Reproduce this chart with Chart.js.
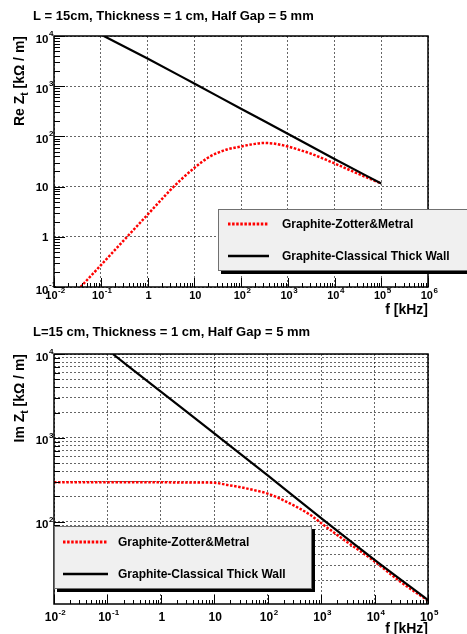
<!DOCTYPE html>
<html>
<head>
<meta charset="utf-8">
<script src="https://cdn.jsdelivr.net/npm/chart.js@4/dist/chart.umd.min.js"></script>
<style>
  html, body { margin: 0; padding: 0; background: #fff; }
  #wrap { position: relative; width: 467px; height: 634px; overflow: hidden; }
  canvas { position: absolute; left: 0; }
</style>
</head>
<body>
<div id="wrap">
  <canvas id="reChart" width="467" height="318" style="top:0"></canvas>
  <canvas id="imChart" width="467" height="316" style="top:318px"></canvas>
</div>
<script>
// values (f in kHz, Z in kOhm/m)
var reFreqZM = [0.037, 0.1, 0.3, 1, 3, 5, 10, 20, 30, 50, 100, 200, 300, 500, 1000, 2000, 3000, 10000, 30000, 100000];
var reZM = [0.1, 0.27, 0.82, 2.75, 8.3, 13.3, 23.5, 38, 46, 55, 63, 71, 74, 72, 63, 52, 46, 29, 18.5, 11.5];
var reFreqCTW = [0.116, 1, 10, 100, 1000, 10000, 100000];
var reCTW = [10000, 3560, 1130, 356, 113, 35.5, 11.5];

var imFreqZM = [0.01, 0.1, 1, 5, 10, 17.5, 31, 55, 100, 193, 630, 1000, 2220, 10000, 30000, 100000];
var imZM = [294, 294, 294, 293, 291, 274, 257, 238, 216, 181, 120, 96, 66, 33.5, 19.3, 11.4];
var imFreqCTW = [0.126, 1, 10, 100, 1000, 10000, 100000];
var imCTW = [10000, 3560, 1130, 356, 110, 35, 11.6];

var seriesNames = ['Graphite-Zotter&Metral', 'Graphite-Classical Thick Wall'];

// tick labels ("^" marks the exponent), first entry is the lowest decade of each axis
var reXTicks = ['10^-2', '10^-1', '1', '10', '10^2', '10^3', '10^4', '10^5', '10^6'];
var reYTicks = ['10^-1', '1', '10', '10^2', '10^3', '10^4'];
var imXTicks = ['10^-2', '10^-1', '1', '10', '10^2', '10^3', '10^4', '10^5'];
var imYTicks = ['10^2', '10^3', '10^4'];

var FONT = '"Liberation Sans", Arial, Helvetica, sans-serif';
Chart.defaults.font.family = FONT;
Chart.defaults.font.weight = 'bold';
Chart.defaults.font.size = 11;
Chart.defaults.color = '#000';

var gridCol = 'rgba(0,0,0,0.6)';

function pts(xs, ys) {
  return xs.map(function(x, i) { return { x: x, y: ys[i] }; });
}

// 1..9 x 10^n ticks, major at the decades
function decadeTicks(scale) {
  var ticks = [];
  var lo = Math.floor(Math.log10(scale.min) + 1e-9);
  var hi = Math.ceil(Math.log10(scale.max) - 1e-9);
  for (var e = lo; e <= hi; e++) {
    for (var m = 1; m < 10; m++) {
      var v = m * Math.pow(10, e);
      if (v >= scale.min * 0.999 && v <= scale.max * 1.001) ticks.push({ value: v, major: m === 1 });
    }
  }
  scale.ticks = ticks;
}

function labelFrom(labels, firstExp) {
  return function(value, index, ticks) {
    if (!ticks[index].major) return '';
    return labels[Math.round(Math.log10(value)) - firstExp];
  };
}

function majorOnly(c) {
  return c.tick && c.tick.major ? gridCol : 'rgba(0,0,0,0)';
}

function f(size) { return 'bold ' + size + 'px ' + FONT; }

// ROOT-like label "10^n": base text plus raised exponent
function powLabel(ctx, text, x, y, mode, baseSize) {
  var parts = text.split('^');
  ctx.font = f(baseSize);
  var wb = ctx.measureText(parts[0]).width, we = 0;
  if (parts[1]) { ctx.font = f(8); we = ctx.measureText(parts[1]).width; }
  var x0 = mode === 'center' ? x + 1 - (wb + we) / 2 : x - wb;
  var yb = parts[1] && mode !== 'center' ? y + 2.5 : y;
  ctx.textAlign = 'left';
  ctx.textBaseline = 'alphabetic';
  ctx.font = f(baseSize);
  ctx.fillText(parts[0], x0, yb);
  if (parts[1]) {
    ctx.font = f(8);
    ctx.fillText(parts[1], x0 + wb + 0.5, yb - 6.5);
  }
}

// frame, inner ticks, labels, titles and the boxed legend
var rootDeco = {
  id: 'rootDeco',
  afterDraw: function(chart, args, o) {
    var ctx = chart.ctx, a = chart.chartArea;
    var xs = chart.scales.x, ys = chart.scales.y;
    ctx.save();

    ctx.strokeStyle = '#000';
    ctx.lineWidth = 1;
    ctx.beginPath();
    ys.ticks.forEach(function(t) {
      var p = Math.round(ys.getPixelForValue(t.value)) + 0.5;
      ctx.moveTo(a.left, p); ctx.lineTo(a.left + (t.major ? 11 : 6), p);
    });
    xs.ticks.forEach(function(t) {
      var p = Math.round(xs.getPixelForValue(t.value)) + 0.5;
      ctx.moveTo(p, a.bottom); ctx.lineTo(p, a.bottom - (t.major ? 9 : 4));
    });
    ctx.stroke();

    ctx.lineWidth = 1.5;
    ctx.strokeRect(a.left, a.top, a.right - a.left, a.bottom - a.top);

    // tick labels
    ctx.fillStyle = '#000';
    xs.ticks.forEach(function(t) {
      if (!t.major) return;
      var s = o.xLabels[Math.round(Math.log10(t.value)) - o.xFirst];
      powLabel(ctx, s, xs.getPixelForValue(t.value), a.bottom + o.xLabelOff, 'center', o.xLabelSize);
    });
    ys.ticks.forEach(function(t) {
      if (!t.major) return;
      var s = o.yLabels[Math.round(Math.log10(t.value)) - o.yFirst];
      powLabel(ctx, s, a.left - 5.5, ys.getPixelForValue(t.value) + 4, 'right', 11.5);
    });

    ctx.textBaseline = 'alphabetic';
    ctx.font = f(13);
    ctx.textAlign = 'left';
    ctx.fillText(o.title, 33, o.titleY);

    // x axis title
    ctx.font = f(14);
    ctx.textAlign = 'right';
    ctx.fillText('f [kHz]', a.right, o.xTitleY);

    // y axis title with subscript, rotated, ending at the top of the frame
    ctx.font = f(14);
    var w1 = ctx.measureText(o.yTitle[0]).width;
    var w3 = ctx.measureText(o.yTitle[2]).width;
    ctx.font = f(10);
    var w2 = ctx.measureText(o.yTitle[1]).width;
    ctx.save();
    ctx.translate(24, a.top);
    ctx.rotate(-Math.PI / 2);
    ctx.textAlign = 'left';
    var u = -(w1 + w2 + w3);
    ctx.font = f(14); ctx.fillText(o.yTitle[0], u, 0);
    ctx.font = f(10); ctx.fillText(o.yTitle[1], u + w1, 4);
    ctx.font = f(14); ctx.fillText(o.yTitle[2], u + w1 + w2, 0);
    ctx.restore();

    // legend box with shadow
    var L = o.legend;
    ctx.fillStyle = '#000';
    ctx.fillRect(L.x + 3, L.y + 3, L.w, L.h);
    ctx.fillStyle = '#f0f0f0';
    ctx.fillRect(L.x, L.y, L.w, L.h);
    ctx.strokeStyle = '#707070';
    ctx.lineWidth = 1;
    ctx.strokeRect(L.x + 0.5, L.y + 0.5, L.w - 1, L.h - 1);
    ctx.font = f(12);
    ctx.textAlign = 'left';
    ctx.textBaseline = 'middle';
    chart.data.datasets.forEach(function(ds, i) {
      var y = L.rows[i];
      ctx.save();
      ctx.strokeStyle = ds.borderColor;
      ctx.lineWidth = ds.borderWidth + 0.5;
      ctx.setLineDash(ds.borderDash || []);
      ctx.beginPath();
      ctx.moveTo(L.x + L.line0, y); ctx.lineTo(L.x + L.line1, y);
      ctx.stroke();
      ctx.restore();
      ctx.fillStyle = '#000';
      ctx.fillText(ds.label, L.x + L.text, y + 1);
    });

    ctx.restore();
  }
};

function makeChart(id, d) {
  return new Chart(document.getElementById(id), {
    type: 'line',
    data: {
      datasets: [
        { label: seriesNames[0], data: pts(d.fZM, d.zZM), borderColor: '#ff0000', borderWidth: 2.5,
          borderDash: [2.5, 1.6], pointRadius: 0, fill: false, cubicInterpolationMode: 'monotone', order: 1 },
        { label: seriesNames[1], data: pts(d.fCTW, d.zCTW), borderColor: '#000000', borderWidth: 2.2,
          pointRadius: 0, fill: false, cubicInterpolationMode: 'monotone', order: 0 }
      ]
    },
    options: {
      responsive: false,
      animation: false,
      layout: { padding: { top: d.top, right: 39, bottom: 0, left: 0 } },
      plugins: {
        legend: { display: false },
        tooltip: { enabled: false },
        rootDeco: {
          title: d.title, titleY: d.titleY, xTitleY: d.xTitleY, yTitle: d.yTitle, legend: d.legend,
          xLabels: d.xTicks, xFirst: d.xFirst, yLabels: d.yTicks, yFirst: d.yFirst,
          xLabelOff: d.xLabelOff, xLabelSize: d.xLabelSize
        }
      },
      scales: {
        x: {
          type: 'logarithmic', min: d.xMin, max: d.xMax,
          afterBuildTicks: decadeTicks,
          afterFit: function(s) { s.height = d.xHeight; },
          ticks: { display: false, autoSkip: false, maxRotation: 0, minRotation: 0,
                   callback: labelFrom(d.xTicks, d.xFirst) },
          grid: { drawTicks: false, color: majorOnly, lineWidth: 1 },
          border: { display: false, dash: [2, 2] }
        },
        y: {
          type: 'logarithmic', min: d.yMin, max: d.yMax,
          afterBuildTicks: decadeTicks,
          afterFit: function(s) { s.width = 54; },
          ticks: { display: false, autoSkip: false, callback: labelFrom(d.yTicks, d.yFirst) },
          grid: { drawTicks: false, color: d.yMinorGrid ? gridCol : majorOnly, lineWidth: 1 },
          border: { display: false, dash: [2, 2] }
        }
      }
    },
    plugins: [rootDeco]
  });
}

makeChart('reChart', {
  fZM: reFreqZM, zZM: reZM, fCTW: reFreqCTW, zCTW: reCTW,
  xMin: 0.01, xMax: 1e6, yMin: 0.1, yMax: 1e4,
  xTicks: reXTicks, xFirst: -2, yTicks: reYTicks, yFirst: -1,
  top: 36, xHeight: 31, titleY: 20, xTitleY: 314, yMinorGrid: false,
  xLabelOff: 12, xLabelSize: 11,
  title: 'L = 15cm, Thickness = 1 cm, Half Gap = 5 mm',
  yTitle: ['Re Z', 't', ' [kΩ / m]'],
  legend: { x: 218, y: 209, w: 252, h: 62, rows: [224, 256], line0: 10, line1: 51, text: 64 }
});

makeChart('imChart', {
  fZM: imFreqZM, zZM: imZM, fCTW: imFreqCTW, zCTW: imCTW,
  xMin: 0.01, xMax: 1e5, yMin: 10.4, yMax: 1e4,
  xTicks: imXTicks, xFirst: -2, yTicks: imYTicks, yFirst: 2,
  top: 36, xHeight: 30, titleY: 18, xTitleY: 315, yMinorGrid: true,
  xLabelOff: 17, xLabelSize: 12,
  title: 'L=15 cm, Thickness = 1 cm, Half Gap = 5 mm',
  yTitle: ['Im Z', 't', ' [kΩ / m]'],
  legend: { x: 54, y: 208, w: 258, h: 63, rows: [224, 256], line0: 9, line1: 54, text: 64 }
});
</script>
</body>
</html>
